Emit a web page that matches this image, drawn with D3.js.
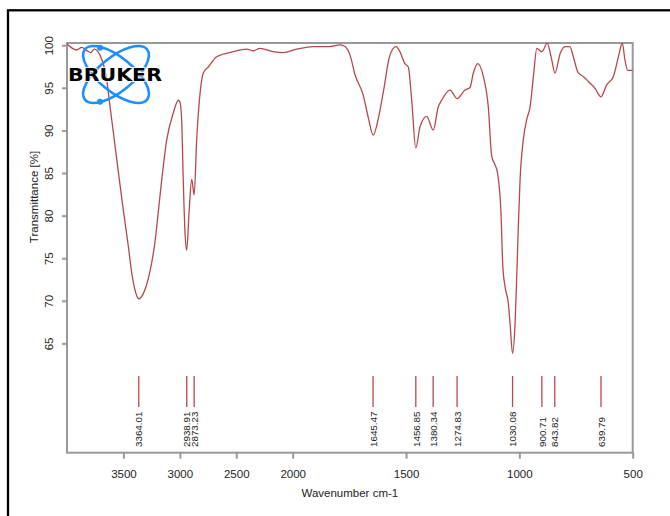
<!doctype html>
<html>
<head>
<meta charset="utf-8">
<script src="https://d3js.org/d3.v7.min.js"></script>
<style>
  body { margin: 0; background: #fff; }
  text { font-family: "Liberation Sans", Arial, sans-serif; fill: #222; }
</style>
</head>
<body>
<svg width="670" height="516"></svg>
<script>

// spectrum (wavenumber cm-1, transmittance %)
var wavenumber = [4000, 3914, 3870, 3820, 3790, 3758, 3732, 3708, 3648, 3619, 3590, 3545, 3501, 3457, 3427, 3397, 3364,
  3324, 3265, 3220, 3191, 3161, 3117, 3058, 3014, 2999, 2984, 2969, 2954, 2939, 2919, 2895, 2873, 2851, 2821,
  2792, 2748, 2673, 2526, 2408, 2349, 2290, 2172, 2083, 1982, 1909, 1835, 1791, 1769, 1747, 1725, 1689, 1666,
  1645, 1622, 1600, 1571, 1544, 1527, 1505, 1490, 1475, 1457, 1438, 1409, 1380, 1358, 1343, 1306, 1275, 1240,
  1218, 1203, 1184, 1159, 1137, 1122, 1107, 1096, 1081, 1073, 1063, 1049, 1041, 1030, 1019, 1012, 1005, 997,
  983, 968, 953, 938, 923, 901, 877, 860, 843, 820, 798, 777, 762, 740, 718, 696, 666, 640, 615, 585, 563,
  546, 534, 522, 500];
var transmittance = [100.2, 99.5, 99.8, 99.4, 99.2, 99.6, 99.4, 98.9, 96.0, 92.9, 89.9, 85.2, 80.7, 76.5, 73.4, 71.3, 70.3,
  70.9, 73.5, 77.0, 80.5, 84.2, 88.9, 92.1, 93.6, 93.4, 91.3, 83.8, 78.0, 76.0, 80.3, 84.3, 82.5, 88.9, 94.4,
  96.8, 97.5, 98.7, 99.3, 99.6, 99.4, 99.7, 99.3, 99.2, 99.6, 99.9, 99.9, 100.1, 99.9, 98.9, 96.6, 94.2, 91.5,
  89.5, 91.5, 94.6, 98.9, 99.9, 99.3, 97.9, 97.5, 93.6, 88.0, 90.5, 91.7, 90.1, 92.8, 93.6, 94.8, 93.8, 94.8,
  95.1, 96.8, 97.9, 96.4, 92.8, 87.0, 86.0, 85.0, 80.3, 74.1, 71.7, 69.8, 67.4, 63.9, 67.4, 72.5, 78.4, 84.2,
  88.9, 91.3, 92.8, 96.4, 99.7, 99.3, 100.3, 98.7, 96.8, 99.1, 99.9, 99.9, 98.7, 96.8, 96.4, 95.8, 95.0, 94.0, 95.4, 96.4, 98.7,
  100.3, 98.3, 97.1, 97.1];

var peakPositions = [3364.01, 2938.91, 2873.23, 1645.47, 1456.85, 1380.34, 1274.83, 1030.08, 900.71, 843.82, 639.79];
var peakLabels = ["3364.01", "2938.91", "2873.23", "1645.47", "1456.85", "1380.34", "1274.83", "1030.08", "900.71", "843.82", "639.79"];
var xTicks = [3500, 3000, 2500, 2000, 1500, 1000, 500];
var yTicks = [65, 70, 75, 80, 85, 90, 95, 100];

var svg = d3.select("svg");
var lineColor = "#b4494c";
var axisColor = "#999";

// outer frame (only top and left visible)
svg.append("rect")
    .attr("x", 8).attr("y", 10.3)
    .attr("width", 700).attr("height", 600)
    .attr("fill", "none").attr("stroke", "#000").attr("stroke-width", 2.3);

var pLeft = 67, pRight = 632.7, pTop = 43, pBottom = 452.7;

// OPUS style axis: region below 2000 is expanded 2x
var x = d3.scaleLinear().domain([4000, 2000, 500]).range([pLeft, 292.7, pRight]);
var y = d3.scaleLinear().domain([52.23, 100.32]).range([pBottom, pTop]);

svg.append("defs").append("clipPath").attr("id", "plotclip")
  .append("rect").attr("x", pLeft).attr("y", pTop).attr("width", pRight - pLeft).attr("height", pBottom - pTop);

// plot box
svg.append("rect")
    .attr("x", pLeft).attr("y", pTop)
    .attr("width", pRight - pLeft).attr("height", pBottom - pTop)
    .attr("fill", "none").attr("stroke", axisColor).attr("stroke-width", 2);

// x axis
var xAxis = svg.append("g")
    .attr("transform", "translate(0," + pBottom + ")")
    .call(d3.axisBottom(x).tickValues(xTicks).tickFormat(d3.format("d"))
      .tickSize(6).tickSizeOuter(0).tickPadding(11));
xAxis.select(".domain").remove();
xAxis.selectAll("line").attr("stroke", axisColor).attr("stroke-width", 2);
xAxis.selectAll("text").attr("font-size", 11.5).style("font-family", "Liberation Sans, Arial").attr("fill", "#222");

// y axis ticks and rotated labels
svg.selectAll(".ytick").data(yTicks).enter().append("line")
    .attr("x1", pLeft - 5).attr("x2", pLeft)
    .attr("y1", d => y(d)).attr("y2", d => y(d))
    .attr("stroke", axisColor).attr("stroke-width", 2);
svg.selectAll(".ylab").data(yTicks).enter().append("text")
    .attr("transform", d => "translate(53," + y(d) + ") rotate(-90)")
    .attr("text-anchor", "middle")
    .attr("font-size", 11.5)
    .text(d => d);

// axis titles
svg.append("text")
    .attr("x", (pLeft + pRight) / 2).attr("y", 497)
    .attr("text-anchor", "middle").attr("font-size", 11.5)
    .text("Wavenumber cm-1");
svg.append("text")
    .attr("transform", "translate(37.5,197) rotate(-90)")
    .attr("text-anchor", "middle").attr("font-size", 11.5)
    .text("Transmittance [%]");

// spectrum
var pts = wavenumber.map((w, i) => [x(w), y(transmittance[i])]);
var line = d3.line().curve(d3.curveMonotoneX);
svg.append("path")
    .attr("clip-path", "url(#plotclip)")
    .attr("d", line(pts))
    .attr("fill", "none").attr("stroke", lineColor).attr("stroke-width", 1.3);

// peak picks
svg.selectAll(".peak").data(peakPositions).enter().append("line")
    .attr("x1", d => x(d)).attr("x2", d => x(d))
    .attr("y1", 376).attr("y2", 407)
    .attr("stroke", lineColor).attr("stroke-width", 1.3);
svg.selectAll(".plab").data(peakPositions).enter().append("text")
    .attr("transform", d => "translate(" + (x(d) + 3.7) + ",447) rotate(-90)")
    .attr("font-size", 9.8)
    .text((d, i) => peakLabels[i]);

// BRUKER logo
var logo = svg.append("g").attr("transform", "translate(116,74.5)");
[39, -39].forEach(function(a) {
  logo.append("ellipse")
      .attr("rx", 40).attr("ry", 17)
      .attr("transform", "rotate(" + a + ")")
      .attr("fill", "none").attr("stroke", "#1f8fff").attr("stroke-width", 2.6);
});
logo.append("circle").attr("cx", -16).attr("cy", -26.8).attr("r", 3).attr("fill", "#1f8fff");
logo.append("circle").attr("cx", -16).attr("cy", 27.2).attr("r", 3).attr("fill", "#1f8fff");
logo.append("text")
    .attr("x", -48).attr("y", 6.5)
    .attr("textLength", 94).attr("lengthAdjust", "spacingAndGlyphs")
    .attr("font-size", 18).attr("font-weight", "bold")
    .style("font-family", "DejaVu Sans, Arial")
    .style("fill", "#000")
    .attr("stroke", "#fff").attr("stroke-width", 1.5).attr("paint-order", "stroke")
    .text("BRUKER");

</script>
</body>
</html>
